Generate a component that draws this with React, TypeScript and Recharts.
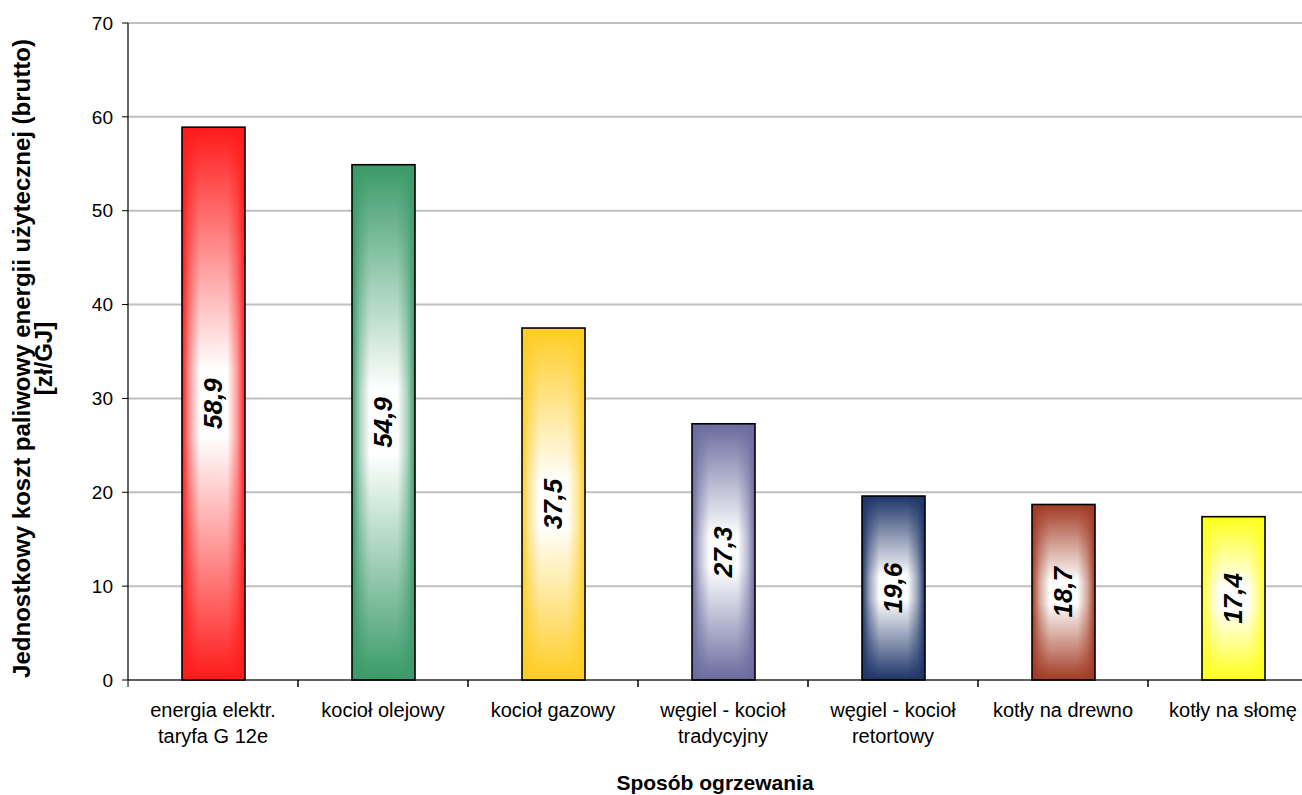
import { BarChart, Bar, XAxis, YAxis, CartesianGrid, LabelList } from 'recharts';

const categories = [
    'energia elektr.|taryfa G 12e',
    'kocioł olejowy',
    'kocioł gazowy',
    'węgiel - kocioł|tradycyjny',
    'węgiel - kocioł|retortowy',
    'kotły na drewno',
    'kotły na słomę',
];
const costs = [58.9, 54.9, 37.5, 27.3, 19.6, 18.7, 17.4];
const barColors = ['#ff1a1a', '#3a9a68', '#ffcc22', '#6a6a9e', '#1d3468', '#a13a22', '#ffff1a'];
const yTicks = [0, 10, 20, 30, 40, 50, 60, 70];

const data = categories.map((name, i) => ({ name, value: costs[i], color: barColors[i] }));

const FONT = '"Liberation Sans", Arial, sans-serif';

function GradientBar(props: any) {
    const { x, y, width, height, index } = props;
    if (!height || height <= 0) return null;
    return (
        <g>
            <rect x={x} y={y} width={width} height={height} fill="#fff" />
            <rect x={x} y={y} width={width} height={height} fill={`url(#vgrad${index})`} />
            <rect x={x} y={y} width={width} height={height} fill={`url(#hgrad${index})`} />
            <rect x={x} y={y} width={width} height={height} fill="none" stroke="#000" strokeWidth={1.6} />
        </g>
    );
}

function CategoryTick(props: any) {
    const { x, y, payload } = props;
    const half = payload?.offset ?? 85;
    const lines = String(payload.value).split('|');
    return (
        <g>
            <line x1={x - half} y1={y - 7} x2={x - half} y2={y} stroke="#000" strokeWidth={1} />
            <line x1={x + half} y1={y - 7} x2={x + half} y2={y} stroke="#000" strokeWidth={1} />
            {lines.map((line, i) => (
                <text key={i} x={x} y={y + 30 + i * 26} textAnchor="middle" fontFamily={FONT} fontSize={20} fill="#000">
                    {line}
                </text>
            ))}
        </g>
    );
}

function ValueLabel(props: any) {
    const { x, y, width, height, value } = props;
    const cx = x + width / 2;
    const cy = y + height / 2;
    return (
        <text
            x={cx}
            y={cy}
            transform={`rotate(-90 ${cx} ${cy})`}
            textAnchor="middle"
            dominantBaseline="central"
            fontFamily={FONT}
            fontSize={26}
            fontWeight="bold"
            fontStyle="italic"
            fill="#000"
        >
            {Number(value).toFixed(1).replace('.', ',')}
        </text>
    );
}

function YTitle(props: any) {
    const vb = props.viewBox;
    const cy = vb.y + vb.height / 2 + 7;
    return (
        <g fontFamily={FONT} fontSize={24} fontWeight="bold" fill="#000">
            <text x={30} y={cy} transform={`rotate(-90 30 ${cy})`} textAnchor="middle">
                Jednostkowy koszt paliwowy energii użytecznej (brutto)
            </text>
            <text x={52} y={cy} transform={`rotate(-90 52 ${cy})`} textAnchor="middle">
                [zł/GJ]
            </text>
        </g>
    );
}

function XTitle() {
    return (
        <text x={715} y={790} textAnchor="middle" fontFamily={FONT} fontSize={21} fontWeight="bold" fill="#000">
            Sposób ogrzewania
        </text>
    );
}

export default function App() {
    return (
        <div style={{ position: 'fixed', left: 0, top: 0, width: 1302, height: 795, overflow: 'hidden', background: '#fff' }}>
            <svg width={0} height={0} style={{ position: 'absolute' }}>
                <defs>
                    {barColors.map((c, i) => (
                        <linearGradient key={`v${i}`} id={`vgrad${i}`} x1="0" y1="0" x2="0" y2="1">
                            <stop offset="0%" stopColor={c} stopOpacity={1} />
                            <stop offset="44%" stopColor={c} stopOpacity={0} />
                            <stop offset="56%" stopColor={c} stopOpacity={0} />
                            <stop offset="100%" stopColor={c} stopOpacity={1} />
                        </linearGradient>
                    ))}
                    {barColors.map((c, i) => (
                        <linearGradient key={`h${i}`} id={`hgrad${i}`} x1="0" y1="0" x2="1" y2="0">
                            <stop offset="0%" stopColor={c} stopOpacity={1} />
                            <stop offset="12%" stopColor={c} stopOpacity={0.45} />
                            <stop offset="28%" stopColor={c} stopOpacity={0} />
                            <stop offset="72%" stopColor={c} stopOpacity={0} />
                            <stop offset="88%" stopColor={c} stopOpacity={0.45} />
                            <stop offset="100%" stopColor={c} stopOpacity={1} />
                        </linearGradient>
                    ))}
                </defs>
            </svg>
            <BarChart width={1318} height={795} data={data} margin={{ top: 23, right: 0, left: 0, bottom: 0 }}>
                <CartesianGrid vertical={false} stroke="#c0c0c0" strokeWidth={2} />
                <XAxis
                    dataKey="name"
                    height={115}
                    interval={0}
                    tickLine={false}
                    tickSize={7}
                    tickMargin={0}
                    axisLine={{ stroke: '#000', strokeWidth: 1.2 }}
                    tick={<CategoryTick />}
                    label={<XTitle />}
                />
                <YAxis
                    width={128}
                    domain={[0, 70]}
                    ticks={yTicks}
                    interval={0}
                    tickSize={6}
                    tickMargin={9}
                    axisLine={{ stroke: '#000', strokeWidth: 1.2 }}
                    tickLine={{ stroke: '#000' }}
                    tick={{ fill: '#000', fontSize: 19, fontFamily: FONT }}
                    label={<YTitle />}
                />
                <Bar dataKey="value" barSize={63} shape={<GradientBar />} isAnimationActive={false}>
                    <LabelList dataKey="value" content={<ValueLabel />} />
                </Bar>
            </BarChart>
        </div>
    );
}
